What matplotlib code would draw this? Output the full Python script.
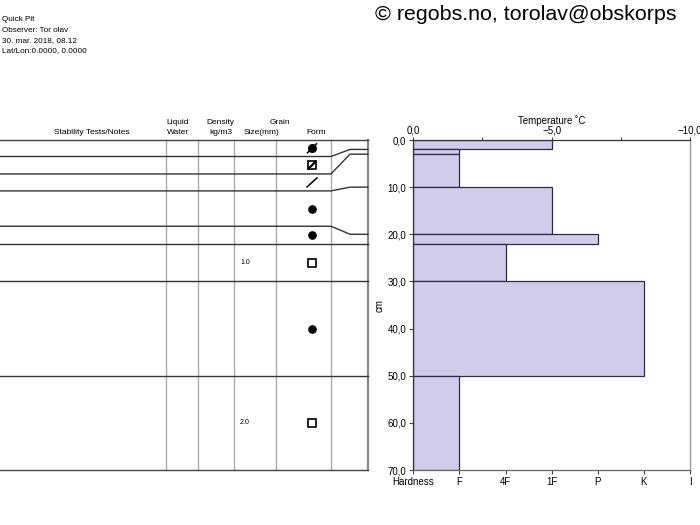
import matplotlib
matplotlib.use("Agg")
import matplotlib.pyplot as plt
import numpy as np

plt.rcParams['font.family'] = ['Liberation Sans', 'DejaVu Sans']

# ---------------- data ----------------
layer_top = [0, 2, 3, 10, 20, 22, 30, 50]
layer_bottom = [2, 3, 10, 20, 22, 30, 50, 70]
layer_hardness = ["1F", "F", "F", "1F", "P", "4F", "K", "F"]
layer_form = ["MFcr", "FCxr", "DF", "MF", "MF", "FC", "MF", "FC"]
layer_grain = ["", "", "", "", "", "1.0", "", "2.0"]
table_rows = [0, 3.5, 7.2, 10.8, 18.3, 22, 30, 50, 70]   # table row boundaries (display depth)
hardness_labels = ["Hardness", "F", "4F", "1F", "P", "K", "I"]
depth_ticks = [0, 10, 20, 30, 40, 50, 60, 70]
temp_ticks = [0, -5, -10]
temp_minor = [-2.5, -7.5]
info_lines = ["Quick Pit", "Observer: Tor olav", "30. mar. 2018, 08.12", "Lat/Lon:0.0000, 0.0000"]
copyright_text = "© regobs.no, torolav@obskorps"

# ---------------- layout helpers ----------------
W, H = 700, 525
fig = plt.figure(figsize=(W / 100, H / 100), dpi=100)
fig.patch.set_facecolor('white')


def fx(px):
    return px / W


def fy(py):
    return 1 - py / H


def fmt(v):
    s = f"{v:.1f}".replace('.', ',')
    return s.replace('-', '\u2212')


CH_TOP, CH_BOT = 140, 470
CH_L, CH_R = 413.3, 690
TBL_R = 367.7

# ---------------- chart axes ----------------
ax = fig.add_axes([fx(CH_L), fy(CH_BOT), (CH_R - CH_L) / W, (CH_BOT - CH_TOP) / H])
ax.set_xlim(0, len(hardness_labels) - 1)
ax.set_ylim(70, 0)
hard_idx = [hardness_labels.index(h) for h in layer_hardness]
thick = np.subtract(layer_bottom, layer_top)
ax.barh(layer_top, hard_idx, height=thick, left=0, align='edge',
        color='#cfcdea', edgecolor='#2c2c48', linewidth=0.9, zorder=2)

ax.set_xticks(range(len(hardness_labels)))
ax.set_xticklabels(hardness_labels, fontsize=7)
ax.set_yticks(depth_ticks)
ax.set_yticklabels([fmt(d) for d in depth_ticks], fontsize=7)
ax.tick_params(axis='both', length=3, width=0.8, color='#444', pad=2)
ax.set_ylabel('cm', fontsize=7)
ax.yaxis.set_label_coords((385 - CH_L) / (CH_R - CH_L), 0.5)
for side, c, lw in [('left', '#333333', 0.9), ('bottom', '#666666', 0.9),
                    ('top', '#333333', 0.9), ('right', '#999999', 1.0)]:
    ax.spines[side].set_color(c)
    ax.spines[side].set_linewidth(lw)

ax2 = ax.twiny()
ax2.set_xlim(0, -10)
ax2.set_xticks(temp_ticks)
ax2.set_xticklabels([fmt(t) for t in temp_ticks], fontsize=7)
ax2.set_xticks(temp_minor, minor=True)
ax2.tick_params(axis='x', which='both', length=2, width=0.8, color='#444', pad=1)
ax2.set_xlabel('Temperature \u02daC', fontsize=7, labelpad=1)
for side in ax2.spines:
    ax2.spines[side].set_visible(False)

# ---------------- table axes ----------------
tax = fig.add_axes([0, fy(CH_BOT), TBL_R / W, (CH_BOT - CH_TOP) / H])
tax.set_xlim(0, TBL_R)
tax.set_ylim(70, 0)
tax.axis('off')
px2cm = 70 / (CH_BOT - CH_TOP)

col_lines = [165.7, 197.7, 234.3, 276, 331]
for c in col_lines:
    tax.plot([c, c], [0, 70], color='#aaaaaa', lw=1.0, clip_on=False)
tax.plot([TBL_R, TBL_R], [0, 70], color='#888888', lw=1.6, clip_on=False)

# top and bottom
for b in (table_rows[0], table_rows[-1]):
    tax.plot([0, TBL_R], [b, b], color='#444444', lw=1.0, clip_on=False)
# inner rows with connectors to real depth
for tb, real in zip(table_rows[1:-1], layer_bottom[:-1]):
    tax.plot([0, 331, 350, TBL_R], [tb, tb, real, real], color='#333333', lw=1.0,
             clip_on=False)

# form symbols and grain size
FX = 312
for i, form in enumerate(layer_form):
    yc = (table_rows[i] + table_rows[i + 1]) / 2
    d = 4.5 * px2cm
    if form == 'MF':
        tax.plot([FX], [yc], 'o', ms=5.2, color='black', clip_on=False)
    elif form == 'FC':
        tax.plot([FX], [yc], 's', ms=5.5, mfc='white', mec='black', mew=1.2, clip_on=False)
    elif form == 'FCxr':
        tax.plot([FX], [yc], 's', ms=5.5, mfc='white', mec='black', mew=1.2, clip_on=False)
        tax.plot([FX - 3.5, FX + 3.5], [yc + 3.5 * px2cm, yc - 3.5 * px2cm], color='black', lw=1.6,
                 clip_on=False)
    elif form == 'DF':
        tax.plot([FX - 5, FX + 5], [yc + d, yc - d], color='black', lw=1.1, clip_on=False)
    elif form == 'MFcr':
        tax.plot([FX], [yc], 'o', ms=5.5, color='black', clip_on=False)
        tax.plot([FX - 4.5, FX + 4.5], [yc + d, yc - d], color='black', lw=1.1, clip_on=False)
    if layer_grain[i]:
        tax.text(240, yc, layer_grain[i], fontsize=5, ha='left', va='center')

# ---------------- header texts ----------------
hdr = [("Stability Tests/Notes", 92, 132.5), ("Liquid", 178, 122.5), ("Water", 178, 132.5),
       ("Density", 220, 122.5), ("kg/m3", 221, 132.5), ("Grain", 280, 122.5),
       ("Size(mm)", 262, 132.5), ("Form", 316, 132.5)]
for t, x, y in hdr:
    fig.text(fx(x), fy(y), t, fontsize=6, ha='center', va='center')

for i, line in enumerate(info_lines):
    fig.text(fx(2.5), fy(19.5 + i * 10.5), line, fontsize=5.9, ha='left', va='center')

fig.text(fx(375), fy(15), copyright_text, fontsize=15.4, ha='left', va='center')

fig.savefig('out.png', dpi=100, facecolor='white')
